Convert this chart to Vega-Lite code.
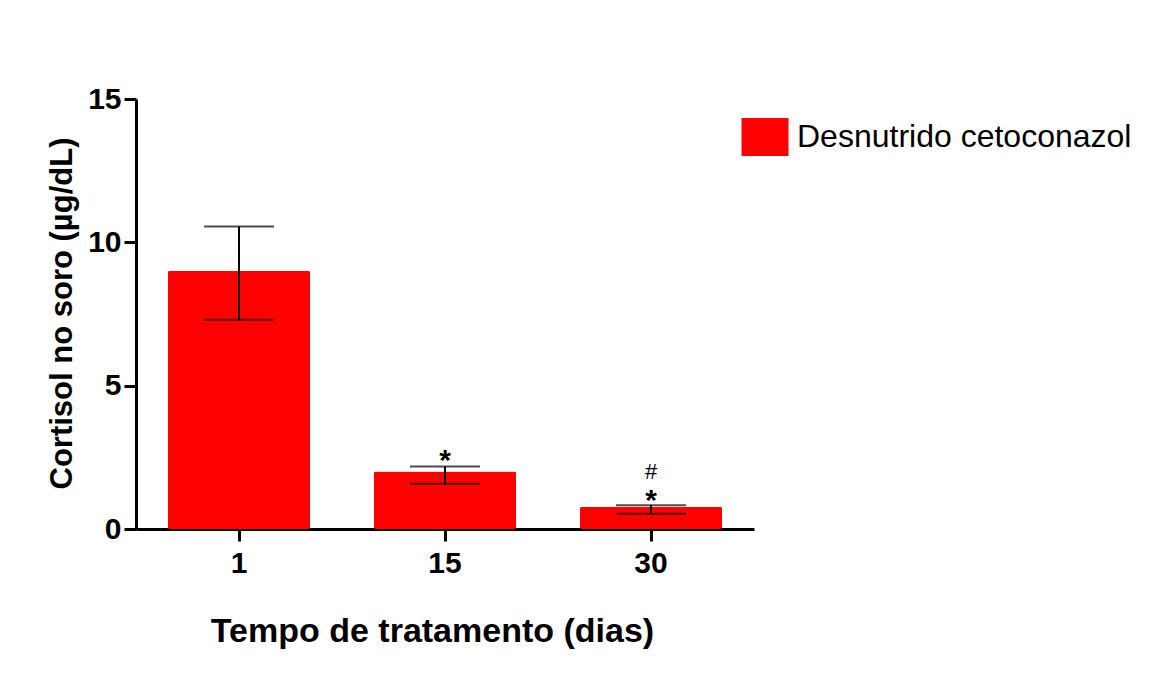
{
  "$schema": "https://vega.github.io/schema/vega-lite/v6.json",
  "autosize": "none",
  "width": 618,
  "height": 430,
  "padding": {"left": 136, "top": 99, "right": 417, "bottom": 157},
  "background": "white",
  "config": {
    "view": {"stroke": null},
    "font": "Liberation Sans"
  },
  "datasets": {
    "bars": [
      {"dia": "1", "media": 9.01, "inferior": 7.30, "superior": 10.55, "grupo": "Desnutrido cetoconazol"},
      {"dia": "15", "media": 2.01, "inferior": 1.58, "superior": 2.18, "grupo": "Desnutrido cetoconazol"},
      {"dia": "30", "media": 0.78, "inferior": 0.53, "superior": 0.83, "grupo": "Desnutrido cetoconazol"}
    ],
    "notas": [
      {"dia": "15", "pos": 2.66, "sinal": "*"},
      {"dia": "30", "pos": 1.27, "sinal": "*"},
      {"dia": "30", "pos": 2.04, "sinal": "#"}
    ]
  },
  "layer": [
    {
      "data": {"name": "bars"},
      "mark": {"type": "bar", "cornerRadius": 2},
      "encoding": {
        "x": {
          "field": "dia", "type": "ordinal", "sort": ["1", "15", "30"],
          "scale": {"paddingInner": 0.31, "paddingOuter": 0.155},
          "axis": {
            "title": "Tempo de tratamento (dias)",
            "labelAngle": 0,
            "labelFont": "Liberation Sans", "labelFontSize": 30, "labelFontWeight": "bold", "labelColor": "black",
            "labelPadding": 7,
            "domainColor": "black", "domainWidth": 3,
            "tickColor": "black", "tickWidth": 3, "tickSize": 12,
            "titleFont": "Liberation Sans", "titleFontSize": 34, "titleFontWeight": "bold", "titleColor": "black",
            "titleBaseline": "alphabetic", "titleX": 296, "titleY": 112
          }
        },
        "y": {
          "field": "media", "type": "quantitative",
          "scale": {"domain": [0, 15], "nice": false},
          "axis": {
            "title": "Cortisol no soro (µg/dL)",
            "values": [0, 5, 10, 15],
            "grid": false,
            "labelFont": "Liberation Sans", "labelFontSize": 30, "labelFontWeight": "bold", "labelColor": "black",
            "labelPadding": 3,
            "domainColor": "black", "domainWidth": 3,
            "tickColor": "black", "tickWidth": 3, "tickSize": 12,
            "titleFont": "Liberation Sans", "titleFontSize": 31, "titleFontWeight": "bold", "titleColor": "black",
            "titleBaseline": "alphabetic", "titleAngle": -90, "titleX": -65, "titleY": 214, "titleAlign": "center"
          }
        },
        "color": {
          "field": "grupo", "type": "nominal",
          "scale": {"range": ["#ff0000"]},
          "legend": {
            "title": null,
            "orient": "none",
            "legendX": 610,
            "legendY": 19,
            "padding": 0,
            "symbolType": "M-1.237,-1H1.237V1H-1.237Z",
            "symbolSize": 1444,
            "symbolStrokeWidth": 0,
            "symbolOpacity": 1,
            "labelFont": "Liberation Sans",
            "labelFontSize": 32,
            "labelColor": "black",
            "labelOffset": 13,
            "labelLimit": 500
          }
        }
      }
    },
    {
      "data": {"name": "bars"},
      "mark": {"type": "rule", "color": "black", "strokeWidth": 2},
      "encoding": {
        "x": {"field": "dia", "type": "ordinal", "sort": ["1", "15", "30"]},
        "y": {"field": "inferior", "type": "quantitative"},
        "y2": {"field": "superior"}
      }
    },
    {
      "data": {"name": "bars"},
      "mark": {"type": "tick", "color": "black", "thickness": 2, "size": 70, "orient": "horizontal"},
      "encoding": {
        "x": {"field": "dia", "type": "ordinal", "sort": ["1", "15", "30"]},
        "y": {"field": "superior", "type": "quantitative"}
      }
    },
    {
      "data": {"name": "bars"},
      "mark": {"type": "tick", "color": "black", "thickness": 2, "size": 70, "orient": "horizontal"},
      "encoding": {
        "x": {"field": "dia", "type": "ordinal", "sort": ["1", "15", "30"]},
        "y": {"field": "inferior", "type": "quantitative"}
      }
    },
    {
      "data": {"name": "notas"},
      "transform": [{"filter": "datum.sinal === '*'"}],
      "mark": {"type": "text", "font": "Liberation Sans", "fontSize": 30, "fontWeight": "bold", "color": "black", "baseline": "alphabetic", "align": "center", "dy": 17},
      "encoding": {
        "x": {"field": "dia", "type": "ordinal", "sort": ["1", "15", "30"]},
        "y": {"field": "pos", "type": "quantitative"},
        "text": {"field": "sinal"}
      }
    },
    {
      "data": {"name": "notas"},
      "transform": [{"filter": "datum.sinal === '#'"}],
      "mark": {"type": "text", "font": "Liberation Sans", "fontSize": 22, "color": "black", "baseline": "alphabetic", "align": "center", "dy": 8},
      "encoding": {
        "x": {"field": "dia", "type": "ordinal", "sort": ["1", "15", "30"]},
        "y": {"field": "pos", "type": "quantitative"},
        "text": {"field": "sinal"}
      }
    }
  ]
}
